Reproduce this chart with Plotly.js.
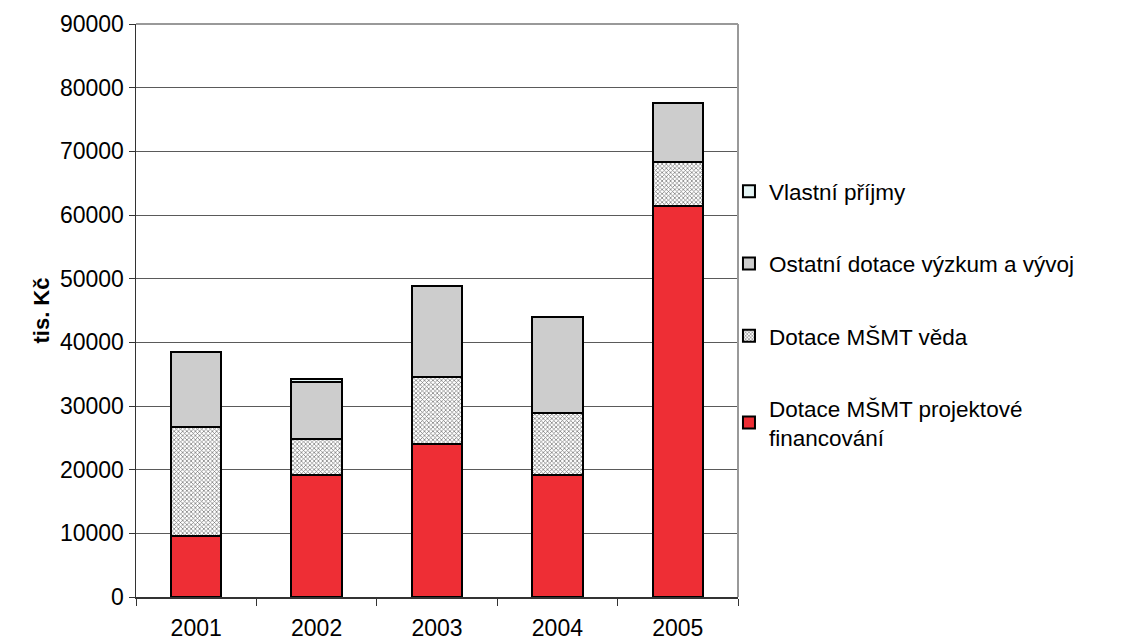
<!DOCTYPE html>
<html>
<head>
<meta charset="utf-8">
<script src="https://cdn.plot.ly/plotly-3.0.1.min.js"></script>
<style>html,body{margin:0;padding:0;background:#fff;}#chart{width:1123px;height:642px;}</style>
</head>
<body>
<div id="chart"></div>
<script>
const years = ['2001', '2002', '2003', '2004', '2005'];
const projektove = [9600, 19150, 24000, 19150, 61400];
const veda = [17100, 5600, 10500, 9700, 7000];
const ostatni = [11750, 9000, 14350, 15200, 9200];
const vlastni = [0, 430, 0, 0, 0];

const seriesNames = [
  'Dotace MŠMT projektové<br>financování',
  'Dotace MŠMT věda',
  'Ostatní dotace výzkum a vývoj',
  'Vlastní příjmy'
];

const outline = {color: '#000', width: 2};
const traces = [
  {type: 'bar', x: years, y: projektove, name: seriesNames[0], legendgroup: 'a', legendrank: 4,
   marker: {color: '#ee2e35', line: outline}},
  {type: 'bar', x: years, y: veda, name: seriesNames[1], legendgroup: 'b', legendrank: 3,
   marker: {color: '#ffffff', line: outline,
            pattern: {shape: 'x', fgcolor: '#707070', bgcolor: '#ffffff', size: 3, solidity: 0.4}}},
  {type: 'bar', x: years, y: ostatni, name: seriesNames[2], legendgroup: 'c', legendrank: 2,
   marker: {color: '#cdcdcd', line: outline}},
  {type: 'bar', x: years, y: vlastni, name: seriesNames[3], legendgroup: 'd', legendrank: 1,
   marker: {color: '#e4f4f4', line: outline}}
];

const font = {family: 'Liberation Sans, Arial, sans-serif', size: 23, color: '#000'};

const layout = {
  width: 1123, height: 642,
  margin: {l: 136, r: 385, t: 24, b: 45},
  paper_bgcolor: '#fff', plot_bgcolor: '#fff',
  barmode: 'stack', bargap: 0.58,
  font: font,
  showlegend: true,
  legend: {x: 0.985, xanchor: 'left', y: 0.745, yanchor: 'top',
           traceorder: 'grouped', tracegroupgap: 40,
           font: {family: font.family, size: 22.5, color: '#000'},
           itemwidth: 30, bgcolor: 'rgba(0,0,0,0)'},
  xaxis: {type: 'category', tickson: 'boundaries', ticks: 'outside', ticklen: 7,
          tickcolor: '#333', showline: true, linecolor: '#333', linewidth: 1.5,
          ticklabelstandoff: 10, tickfont: font, showgrid: false, zeroline: false},
  yaxis: {range: [0, 90000], dtick: 10000, tickformat: 'd', ticks: 'outside', ticklen: 6,
          tickcolor: '#333', showline: true, linecolor: '#333', linewidth: 1.5,
          showgrid: true, gridcolor: '#5a5a5a', gridwidth: 1, zeroline: false,
          tickfont: font,
          title: {text: '<b>tis. Kč</b>', font: {family: font.family, size: 22, color: '#000'}, standoff: 4}},
  shapes: [
    {type: 'line', xref: 'paper', yref: 'paper', x0: 1, x1: 1, y0: 0, y1: 1,
     line: {color: '#999', width: 2}},
    {type: 'line', xref: 'paper', yref: 'paper', x0: 0, x1: 1, y0: 1, y1: 1,
     line: {color: '#999', width: 2}}
  ]
};

Plotly.newPlot('chart', traces, layout, {displayModeBar: false, staticPlot: true});
</script>
</body>
</html>
